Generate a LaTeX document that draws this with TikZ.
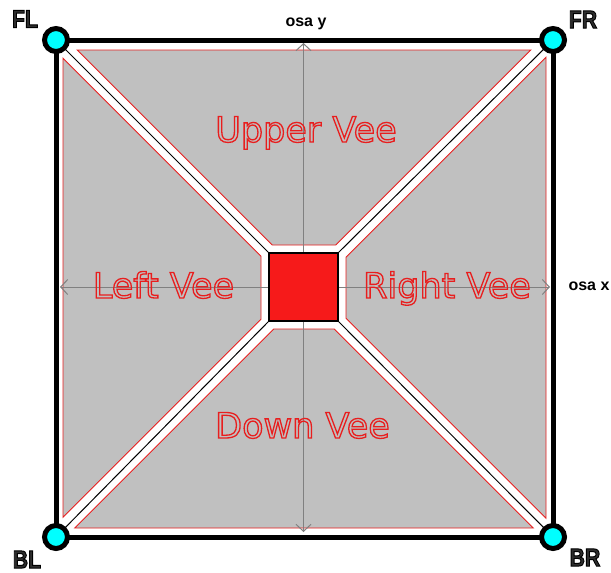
\documentclass[tikz,border=0pt]{standalone}
\usepackage{fontspec}
\setmainfont{DejaVu Sans}
\newfontfamily\labfont{Liberation Sans}
\usetikzlibrary{arrows.meta}
\definecolor{veegray}{RGB}{192,192,192}
\definecolor{veered}{RGB}{232,30,30}
\definecolor{sqred}{RGB}{246,26,26}
\definecolor{cornercyan}{RGB}{0,255,255}
\definecolor{axgray}{RGB}{128,128,128}
\definecolor{labfill}{RGB}{45,45,45}
\newcommand\strokedtext[1]{\special{pdf:literal direct 1 Tr 1.3 w}#1\special{pdf:literal direct 0 Tr}}
\newcommand\cornertext[1]{\special{pdf:literal direct 2 Tr 0 G 1 w}#1\special{pdf:literal direct 0 Tr}}
\tikzset{
  vee/.style={fill=veegray, draw=veered, line width=0.9pt, line join=miter},
  axis/.style={draw=axgray, line width=1pt, {Straight Barb[length=7pt,width=15pt]}-{Straight Barb[length=7pt,width=15pt]}},
  veelabel/.style={text=veered, font=\fontsize{35}{40}\selectfont, anchor=base, inner sep=0pt},
  cornerlabel/.style={text=labfill, font=\labfont\bfseries\fontsize{25}{28}\selectfont, inner sep=0pt, xscale=0.85},
  axislabel/.style={text=black, font=\labfont\bfseries\fontsize{16}{18}\selectfont, anchor=base, inner sep=0pt},
  diag/.style={draw=black, line width=1pt},
  frame/.style={draw=black, line width=5pt, line join=miter},
  corner/.style={circle, draw=black, line width=5pt, fill=cornercyan, minimum size=23pt, inner sep=0pt},
  centersq/.style={rectangle, draw=black, line width=1.5pt, fill=sqred, minimum width=69pt, minimum height=68pt, inner sep=0pt}
}
\begin{document}
\begin{tikzpicture}[x=1pt,y=-1pt]
\useasboundingbox[fill=white] (0,0) rectangle (611,573);
% gray vees
\fill[vee] (77.3,50) -- (530.7,50) -- (335.7,245) -- (272.3,245) -- cycle;
\fill[vee] (63,58.3) -- (261,256.3) -- (261,319.2) -- (63,517.2) -- cycle;
\fill[vee] (346,257.3) -- (546,57.3) -- (546,518.2) -- (346,318.2) -- cycle;
\fill[vee] (273.8,329) -- (334.2,329) -- (533.2,528) -- (74.8,528) -- cycle;
% axes
\coordinate (axL) at (60,287);
\coordinate (axR) at (550,287);
\coordinate (axT) at (303.5,43);
\coordinate (axB) at (303.5,532);
\draw[axis] (axL) -- (axR);
\draw[axis] (axT) -- (axB);
% vee labels
\node[veelabel] (up) at (306,142) {\strokedtext{Upper Vee}};
\node[veelabel] (lv) at (163.5,298) {\strokedtext{Left Vee}};
\node[veelabel] (rv) at (447,298) {\strokedtext{Right Vee}};
\node[veelabel] (dv) at (302.5,438) {\strokedtext{Down Vee}};
% corners
\coordinate (pFL) at (56,40);
\coordinate (pFR) at (553,40);
\coordinate (pBL) at (56,537);
\coordinate (pBR) at (553,537);
% center square
\node[centersq] (sq) at (303.5,287) {};
\draw[diag] (pFL) -- (sq.north west);
\draw[diag] (pFR) -- (sq.north east);
\draw[diag] (pBL) -- (sq.south west);
\draw[diag] (pBR) -- (sq.south east);
\draw[frame] (pFL) -- (pFR) -- (pBR) -- (pBL) -- cycle;
\node[corner] (FL) at (pFL) {};
\node[corner] (FR) at (pFR) {};
\node[corner] (BL) at (pBL) {};
\node[corner] (BR) at (pBR) {};
% labels
\node[cornerlabel] (tFL) at (25,19) {\cornertext{FL}};
\node[cornerlabel] (tFR) at (583,19.5) {\cornertext{FR}};
\node[cornerlabel] (tBL) at (27,559.5) {\cornertext{BL}};
\node[cornerlabel] (tBR) at (585,557.5) {\cornertext{BR}};
\node[axislabel] (ox) at (589,290) {osa x};
\node[axislabel] (oy) at (306,26.5) {osa y};
\end{tikzpicture}
\end{document}
